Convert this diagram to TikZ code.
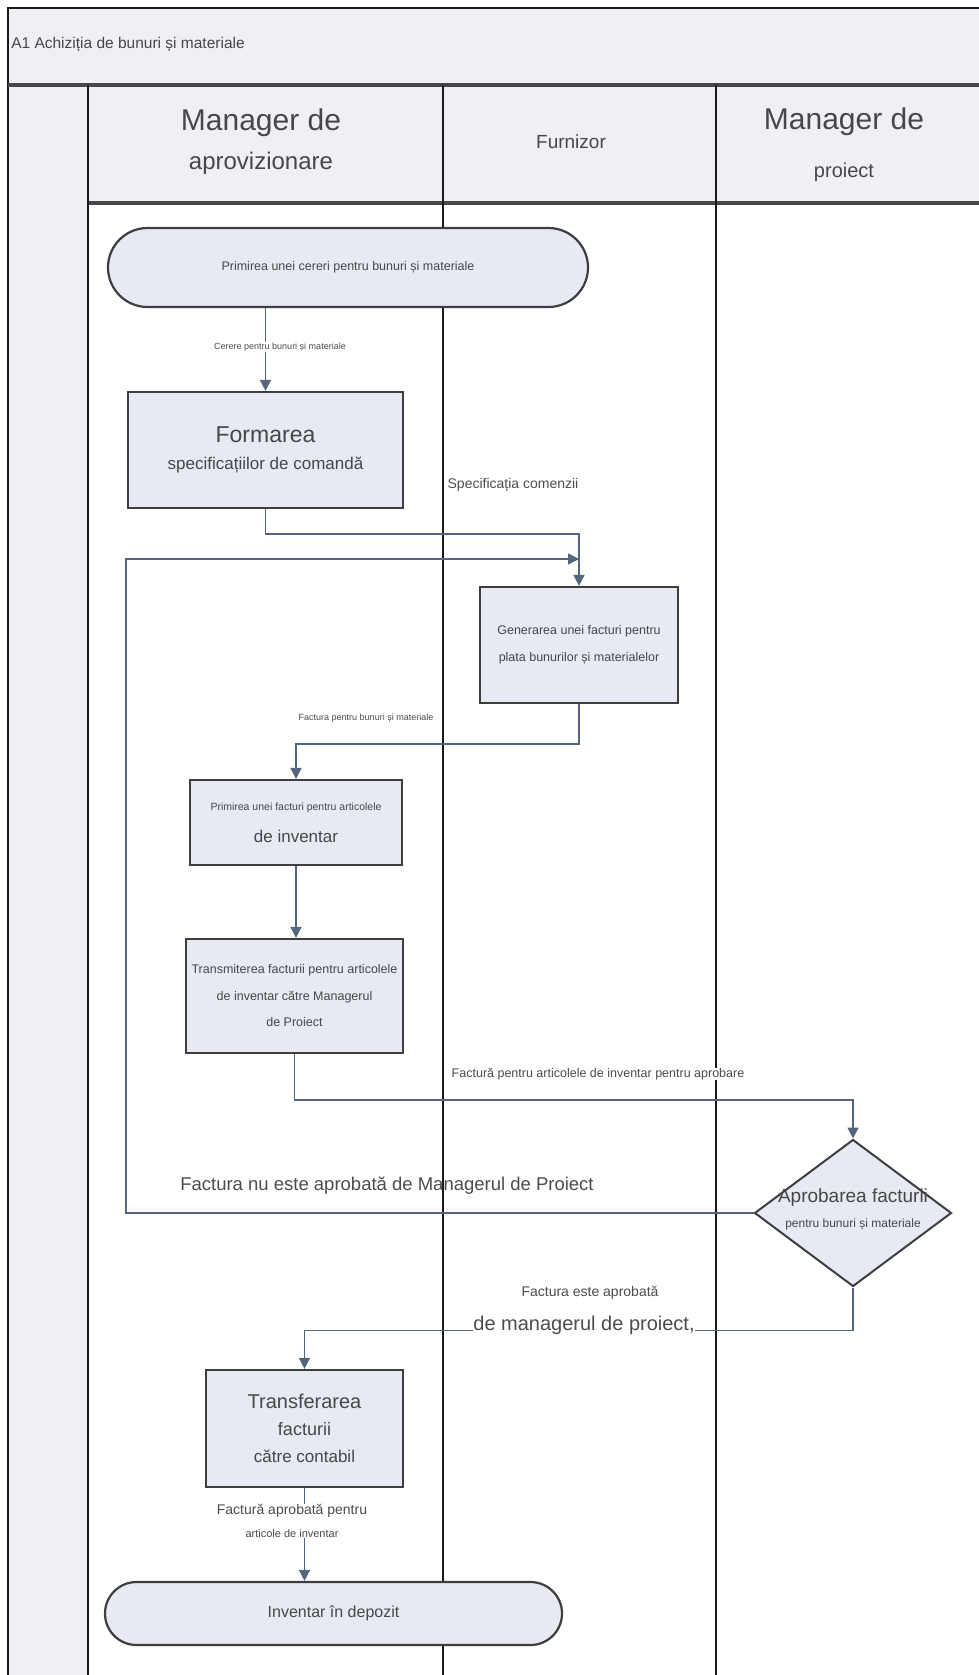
\documentclass[tikz,border=0pt]{standalone}
\usepackage{fontspec}
\setmainfont{Liberation Sans}
\usetikzlibrary{arrows.meta,shapes.geometric}
\definecolor{hdfill}{RGB}{238,240,246}
\definecolor{boxfill}{RGB}{231,234,243}
\definecolor{boxline}{RGB}{62,62,62}
\definecolor{flowline}{RGB}{84,102,126}
\definecolor{lanerule}{RGB}{25,25,25}
\newcommand\fsz[1]{\fontsize{#1}{#1}\selectfont}

\begin{document}
\begin{tikzpicture}[x=1pt,y=-1pt,>={Triangle[length=11pt,width=11pt]},
                    activity/.style={draw=boxline,line width=2.2pt,fill=boxfill,align=center,inner sep=0pt,text=black!72},
                    terminal/.style={activity,rounded corners=#1},
                    decision/.style={diamond,draw=boxline,line width=2pt,fill=boxfill,inner sep=0pt},
                    flow/.style={->,draw=flowline,line width=1.6pt},
                    flowlabel/.style={fill=white,inner sep=0.5pt,text=black!70},
                    lanehead/.style={align=center,text=black!72}]

 \useasboundingbox (0,0) rectangle (979,1675);
 \fill[hdfill] (8,8) rectangle (979,85);
 \fill[hdfill] (8,85) rectangle (88,1675);
 \fill[hdfill] (88,85) rectangle (979,203);
 \draw[lanerule,line width=2pt] (8,1675) -- (8,8) -- (979,8);
 \draw[black!72,line width=3.5pt] (8,85) -- (979,85);
 \draw[black!72,line width=3.5pt] (88,203) -- (979,203);
 \foreach \xl in {88,443,716}
   \draw[lanerule,line width=2pt] (\xl,85) -- (\xl,1675);

 \node[text=black!72] (title) at (128,45) {\fsz{15.5}A1 Achiziția de bunuri și materiale};
 \node[lanehead,font=\fontsize{30}{39}\selectfont] (hdprov) at (261,142) {Manager de\\{\fsz{24}aprovizionare}};
 \node[lanehead,font=\fsz{19}] (hdfurn) at (571,142) {Furnizor};
 \node[lanehead,font=\fontsize{30}{48}\selectfont] (hdproj) at (844,145) {Manager de\\{\fsz{20}proiect}};

 \node[terminal=39.5pt,minimum width=480pt,minimum height=79pt] (start) at (348,267.5) {\fsz{12.5}Primirea unei cereri pentru bunuri și materiale};
 \node[activity,minimum width=275pt,minimum height=116pt,font=\fontsize{17}{27}\selectfont] (form) at (265.5,450) {{\fsz{23}Formarea}\\specificațiilor de comandă};
 \node[activity,minimum width=198pt,minimum height=116pt,font=\fontsize{12.5}{27}\selectfont] (gen) at (579,645) {Generarea unei facturi pentru\\plata bunurilor și materialelor};
 \node[activity,minimum width=212pt,minimum height=85pt,font=\fontsize{10.5}{32}\selectfont] (prim) at (296,822.5) {Primirea unei facturi pentru articolele\\{\fsz{17}de inventar}};
 \node[activity,minimum width=217pt,minimum height=114pt,font=\fontsize{12.5}{26.5}\selectfont] (trans) at (294.5,996) {Transmiterea facturii pentru articolele\\de inventar către Managerul\\de Proiect};
 \node[decision,minimum width=197pt,minimum height=147pt] (dec) at (853,1213) {};
 \node[align=center,font=\fontsize{12}{25}\selectfont,text=black!72] (dectext) at (853,1209) {{\fsz{19}Aprobarea facturii}\\pentru bunuri și materiale};
 \node[activity,minimum width=197pt,minimum height=117pt,font=\fontsize{17}{27}\selectfont] (transf) at (304.5,1428.5) {{\fsz{20}Transferarea}\\{\fsz{18}facturii}\\către contabil};
 \node[terminal=31.5pt,minimum width=457pt,minimum height=63pt] (depot) at (333.5,1613.5) {\fsz{16}Inventar în depozit};

 \coordinate (back) at (126,559);
 \draw[flow] (start.south -| form.north) -- (form.north);
 \draw[flow] (form.south) -- ++(0,25) -| (gen.north);
 \draw[flow] (dec.west) -| (back) -- (back -| gen.north);
 \draw[flow] (gen.south) -- ++(0,40) -| (prim.north);
 \draw[flow] (prim.south) -- (prim.south |- trans.north);
 \draw[flow] (trans.south) -- ++(0,46) -| (dec.north);
 \draw[flow] (dec.south) -- ++(0,43) -| (transf.north);
 \draw[flow] (transf.south) -- (transf.south |- depot.north);

 \node[flowlabel,font=\fsz{9}] (lbcer) at (280,347) {Cerere pentru bunuri și materiale};
 \node[flowlabel,fill=none,font=\fsz{14}] (lbspec) at (513,485) {Specificația comenzii};
 \node[flowlabel,font=\fsz{9}] (lbfact) at (366,718) {Factura pentru bunuri și materiale};
 \node[flowlabel,font=\fsz{12.5}] (lbaprob) at (598,1074) {Factură pentru articolele de inventar pentru aprobare};
 \node[flowlabel,fill=none,font=\fsz{18.5}] (lbnu) at (387,1186) {Factura nu este aprobată de Managerul de Proiect};
 \node[flowlabel,font=\fsz{14}] (lbda) at (590,1293) {Factura este aprobată};
 \node[flowlabel,font=\fsz{20}] (lbda2) at (584,1325) {de managerul de proiect,};
 \node[flowlabel,align=center,font=\fontsize{14}{23}\selectfont] (lbcont) at (292,1521) {Factură aprobată pentru\\{\fsz{11}articole de inventar}};

\end{tikzpicture}
\end{document}
